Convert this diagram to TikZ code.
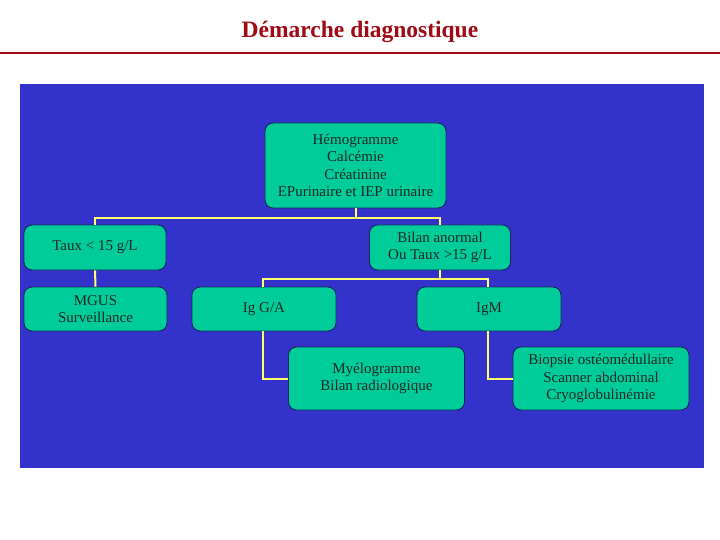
\documentclass[tikz,border=0pt]{standalone}
\usepackage{fontspec}
\setmainfont{Liberation Serif}
\definecolor{bgblue}{RGB}{51,51,204}
\definecolor{boxteal}{RGB}{0,204,153}
\definecolor{boxborder}{RGB}{20,40,90}
\definecolor{linkyellow}{RGB}{255,255,110}
\definecolor{titlered}{RGB}{160,10,20}
\definecolor{boxtext}{RGB}{30,40,40}
\begin{document}
\begin{tikzpicture}[x=1pt,y=-1pt,
  box/.style={draw=boxborder,line width=0.9pt,fill=boxteal,rounded corners=8pt,
    align=center,inner sep=0pt,text=boxtext,font=\fontsize{15}{17.5}\selectfont},
  link/.style={draw=linkyellow,line width=2pt}]
\useasboundingbox (0,0) rectangle (720,540);
\fill[white] (0,0) rectangle (720,540);
\node[font=\fontsize{23.5}{26}\selectfont\bfseries,text=titlered] (title) at (360,32) {Démarche diagnostique};
\draw[titlered,line width=2.5pt] (0,53) -- (720,53);
\fill[bgblue] (20,84) rectangle (704,468);
% boxes
\node[box,minimum width=181pt,minimum height=85pt] (top) at (355.5,165.5)
  {Hémogramme\\Calcémie\\Créatinine\\EPurinaire et IEP urinaire};
\node[box,minimum width=142pt,minimum height=45pt] (low) at (95,247.5) {Taux < 15 g/L};
\node[box,minimum width=141pt,minimum height=45pt] (high) at (440,247.5) {Bilan anormal\\Ou Taux >15 g/L};
\node[box,minimum width=143pt,minimum height=44pt] (mgus) at (95.5,309) {MGUS\\Surveillance};
\node[box,minimum width=144pt,minimum height=44pt] (iga) at (264,309) {Ig G/A};
\node[box,minimum width=144pt,minimum height=44pt] (igm) at (489,309) {IgM};
\node[box,minimum width=176pt,minimum height=63pt] (myelo) at (376.5,378.5) {Myélogramme\\Bilan radiologique};
\node[box,minimum width=176pt,minimum height=63pt] (biop) at (601,378.5)
  {Biopsie ostéomédullaire\\Scanner abdominal\\Cryoglobulinémie};
% connectors
\coordinate (j1) at (355.5,218);
\coordinate (j2) at (440,279);
\draw[link] (top.south) -- (j1);
\draw[link] (low.north) |- (j1) -| (high.north);
\draw[link] (low.south) -- (mgus.north);
\draw[link] (high.south) -- (j2);
\draw[link] (iga.north -| 263,0) |- (j2) -| (igm.north -| 488,0);
\draw[link] (iga.south -| 263,0) |- (myelo.west);
\draw[link] (igm.south -| 488,0) |- (biop.west);
\end{tikzpicture}
\end{document}
